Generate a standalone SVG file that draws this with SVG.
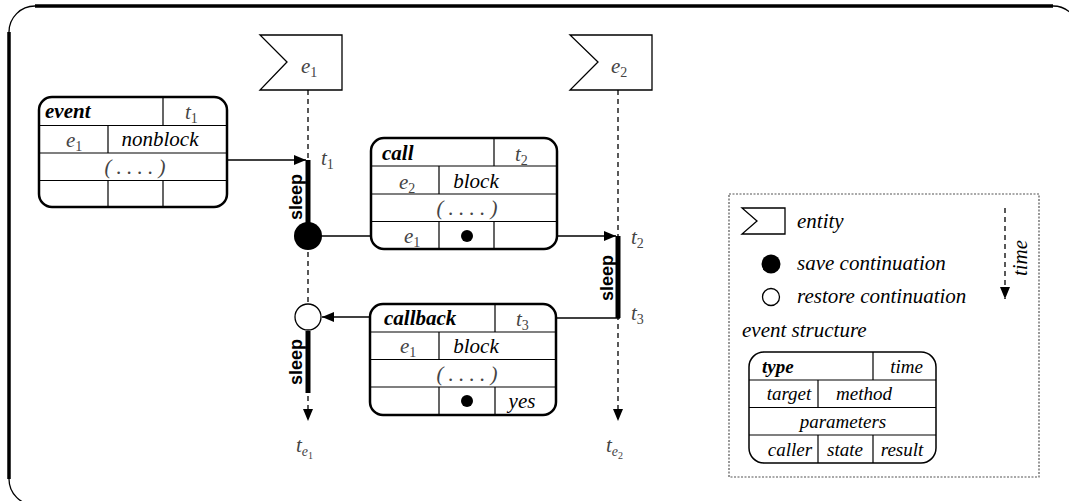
<svg xmlns="http://www.w3.org/2000/svg" width="1069" height="501" viewBox="0 0 1069 501">
<style>
.it{font-style:italic;font-size:21px;fill:#000}
.m{font-style:italic;font-size:21px;fill:#444}
.sub{font-style:normal;font-size:14px}
.b{font-weight:bold}
.sl{font-weight:bold;font-size:18px;fill:#000}
.box{fill:#fff;stroke:#000;stroke-width:2.5}
.div{stroke:#000;stroke-width:1.2;fill:none}
.life{stroke:#000;stroke-width:1.3;stroke-dasharray:5 4;fill:none}
.bar{stroke:#000;stroke-width:5;fill:none}
.con{stroke:#000;stroke-width:1.3;fill:none}
.ent{fill:#fff;stroke:#000;stroke-width:1.3}
.lg{font-size:19px}
</style>
<defs>
<marker id="ah" viewBox="0 0 12 10" refX="12" refY="5" markerWidth="12" markerHeight="10" markerUnits="userSpaceOnUse" orient="auto">
<path d="M0,0 L12,5 L0,10 Z" fill="#000"/>
</marker>
</defs>

<g id="frame">
<path d="M35,6 H1053" stroke="#000" stroke-width="3.5" fill="none"/>
<path d="M9,32 V479" stroke="#000" stroke-width="3.5" fill="none"/>
<path d="M9,32 A26,26 0 0 1 35,6" stroke="#000" stroke-width="1.3" fill="none"/>
<path d="M1053,6 A26,26 0 0 1 1079,32" stroke="#000" stroke-width="1.3" fill="none"/>
<path d="M9,479 A26,26 0 0 0 35,505" stroke="#000" stroke-width="1.3" fill="none"/>
</g>

<g id="connectors">
<path class="life" d="M308,90 V421" marker-end="url(#ah)"/>
<path class="life" d="M618,90 V421" marker-end="url(#ah)"/>
<path class="bar" d="M308,160 V236"/>
<path class="bar" d="M618,236 V318"/>
<path class="bar" d="M308,331 V393"/>
<path class="con" d="M227,160 H306" marker-end="url(#ah)"/>
<path class="con" d="M308,236 H371"/>
<path class="con" d="M557,236 H616" marker-end="url(#ah)"/>
<path class="con" d="M620,318 H556"/>
<path class="con" d="M370,317 H322" marker-end="url(#ah)"/>
</g>

<g font-family="Liberation Serif, DejaVu Serif, serif">
<g id="entity-e1">
<polygon class="ent" points="260,35 342,35 342,90 260,90 287,62"/>
<text class="m" x="301" y="73">e<tspan class="sub" dy="4">1</tspan></text>
</g>
<g id="entity-e2">
<polygon class="ent" points="570,35 652,35 652,90 570,90 598,62"/>
<text class="m" x="611" y="73">e<tspan class="sub" dy="4">2</tspan></text>
</g>

<g id="event">
<rect class="box" x="39" y="97" width="188" height="110" rx="13"/>
<path class="div" d="M39,125.5 H227 M39,153 H227 M39,180.5 H227 M163,97 V125.5 M108,125.5 V153 M108,180.5 V207 M163,180.5 V207"/>
<text class="it b" x="45" y="118">event</text>
<text class="m" x="185" y="119">t<tspan class="sub" dy="4">1</tspan></text>
<text class="m" x="66" y="147">e<tspan class="sub" dy="4">1</tspan></text>
<text class="it" x="160" y="146" text-anchor="middle">nonblock</text>
<text class="m" x="135" y="174" text-anchor="middle">( . . . . )</text>
</g>

<g id="save-e1">
<circle cx="308" cy="236" r="14" fill="#000"/>
<text class="sl" font-family="Liberation Sans, Arial, sans-serif" transform="translate(302,197) rotate(-90)" text-anchor="middle">sleep</text>
<text class="m" x="321" y="165">t<tspan class="sub" dy="4">1</tspan></text>
</g>

<g id="call">
<rect class="box" x="371" y="138" width="186" height="111" rx="13"/>
<path class="div" d="M371,166 H557 M371,194 H557 M371,221.5 H557 M494,138 V166 M439,166 V194 M439,221.5 V249 M494,221.5 V249"/>
<text class="it b" x="382" y="160">call</text>
<text class="m" x="515" y="161">t<tspan class="sub" dy="4">2</tspan></text>
<text class="m" x="399" y="189">e<tspan class="sub" dy="4">2</tspan></text>
<text class="it" x="476" y="188" text-anchor="middle">block</text>
<text class="m" x="467" y="215" text-anchor="middle">( . . . . )</text>
<text class="m" x="404" y="243">e<tspan class="sub" dy="4">1</tspan></text>
<circle cx="467" cy="236" r="6" fill="#000"/>
</g>

<g id="sleep-e2">
<text class="sl" font-family="Liberation Sans, Arial, sans-serif" transform="translate(613,278) rotate(-90)" text-anchor="middle">sleep</text>
<text class="m" x="631" y="244">t<tspan class="sub" dy="4">2</tspan></text>
<text class="m" x="631" y="320">t<tspan class="sub" dy="4">3</tspan></text>
</g>

<g id="callback">
<rect class="box" x="370" y="304" width="186" height="111" rx="13"/>
<path class="div" d="M370,332 H556 M370,359.5 H556 M370,387 H556 M495,304 V332 M439,332 V359.5 M439,387 V415 M495,387 V415"/>
<text class="it b" x="384" y="325">callback</text>
<text class="m" x="516" y="326">t<tspan class="sub" dy="4">3</tspan></text>
<text class="m" x="400" y="353">e<tspan class="sub" dy="4">1</tspan></text>
<text class="it" x="476" y="353" text-anchor="middle">block</text>
<text class="m" x="467" y="381" text-anchor="middle">( . . . . )</text>
<circle cx="467" cy="401" r="6" fill="#000"/>
<text class="it" x="522" y="408" text-anchor="middle">yes</text>
</g>

<g id="restore-e1">
<circle cx="308" cy="317" r="13" fill="#fff" stroke="#000" stroke-width="1.3"/>
<text class="sl" font-family="Liberation Sans, Arial, sans-serif" transform="translate(302,362) rotate(-90)" text-anchor="middle">sleep</text>
</g>

<g id="end-labels">
<text class="m" x="296" y="452">t<tspan font-size="14" dy="4">e</tspan><tspan font-size="10" font-style="normal" dy="3">1</tspan></text>
<text class="m" x="606" y="452">t<tspan font-size="14" dy="4">e</tspan><tspan font-size="10" font-style="normal" dy="3">2</tspan></text>
</g>

<g id="legend">
<rect x="729" y="194" width="310" height="283" fill="none" stroke="#555" stroke-width="1.2" stroke-dasharray="2 1.5"/>
<polygon class="ent" points="742,208 785,208 785,234 742,234 757,221"/>
<text class="it" x="797" y="228">entity</text>
<circle cx="771" cy="264" r="9.5" fill="#000"/>
<text class="it" x="797" y="270">save continuation</text>
<circle cx="771" cy="297" r="8.5" fill="#fff" stroke="#000" stroke-width="1.3"/>
<text class="it" x="797" y="303">restore continuation</text>
<path class="life" d="M1005,208 V299" marker-end="url(#ah)"/>
<text class="it" transform="translate(1027,258) rotate(-90)" text-anchor="middle">time</text>
<text class="it" x="742" y="337">event structure</text>
</g>

<g id="event-structure">
<rect x="749" y="352" width="187" height="111" rx="15" fill="#fff" stroke="#000" stroke-width="1.5"/>
<path class="div" d="M749,380 H936 M749,407.5 H936 M749,435 H936 M873,352 V380 M818,380 V407.5 M818,435 V463 M873,435 V463"/>
<text class="it lg b" x="762" y="373">type</text>
<text class="it lg" x="923" y="373" text-anchor="end">time</text>
<text class="it lg" x="789" y="400" text-anchor="middle">target</text>
<text class="it lg" x="864" y="400" text-anchor="middle">method</text>
<text class="it lg" x="843" y="428" text-anchor="middle">parameters</text>
<text class="it lg" x="790" y="456" text-anchor="middle">caller</text>
<text class="it lg" x="845" y="456" text-anchor="middle">state</text>
<text class="it lg" x="902" y="456" text-anchor="middle">result</text>
</g>
</g>
</svg>
